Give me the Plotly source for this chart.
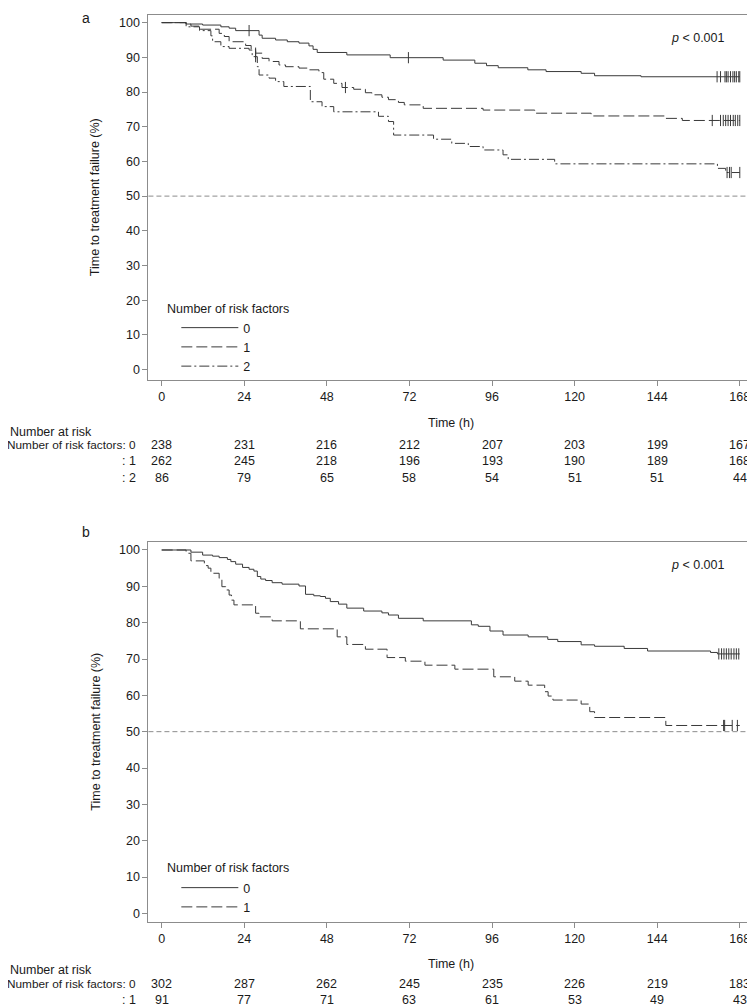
import numpy as np
import plotly.graph_objects as go

# The page adds an 8 px body margin, so the figure is drawn 8 px smaller and all
# reference pixel positions are shifted by that offset.
OFF = 8
W, H = 755 - OFF, 1006 - OFF

# ---------------- Panel a: survival curves (time h, % free of treatment failure) -------------
a_t0 = [0, 7.1, 11.9, 17.2, 19.6, 21.5, 28.3, 29.2, 33.1, 36.5, 39.9, 42.8, 44.0, 45.2, 53.8,
        66.4, 81.8, 91.0, 94.4, 97.8, 106.4, 111.7, 121.9, 125.8, 139.3, 168]
a_s0 = [100, 99.6, 99.3, 98.8, 98.4, 97.7, 96.4, 95.5, 95.0, 94.5, 94.1, 93.3, 92.3, 91.4, 90.7,
        89.9, 89.2, 88.3, 87.6, 87.0, 86.4, 85.9, 85.4, 84.7, 84.4, 84.4]
a_c0 = [25.4, 71.7, 161.4, 162.4, 163.7, 164.1, 164.6, 165.3, 166.0, 166.5, 167.0, 167.7, 168.0]

a_t1 = [0, 7.1, 8.5, 10.9, 16.7, 18.2, 19.6, 24.4, 26.0, 27.3, 29.2, 31.2, 34.1, 36.0, 39.9, 42.8,
        45.7, 47.1, 50.0, 52.4, 55.8, 59.2, 61.1, 64.0, 65.9, 68.8, 70.5, 76.0, 93.4, 108.4,
        124.8, 146.5, 151.3, 168]
a_s1 = [100, 99.6, 99.0, 98.1, 96.9, 96.0, 94.5, 93.4, 92.3, 91.2, 89.7, 88.8, 87.8, 87.3, 86.9,
        86.4, 85.6, 83.7, 82.5, 81.3, 80.8, 79.8, 79.2, 78.5, 77.8, 77.0, 76.3, 75.3, 74.8, 73.9,
        73.1, 72.4, 71.8, 71.8]
a_c1 = [27.3, 53.4, 160.0, 162.4, 163.2, 163.9, 164.6, 165.3, 166.1, 166.7, 167.4, 168.0]

a_t2 = [0, 7.1, 11.0, 14.3, 14.8, 17.2, 19.6, 25.4, 26.3, 27.8, 28.3, 31.2, 33.1, 35.5, 43.2,
        46.6, 50.0, 63.0, 65.9, 67.4, 79.0, 84.3, 89.1, 93.4, 99.2, 100.7, 114.2, 161.5, 163.9, 168]
a_s2 = [100, 98.8, 97.7, 96.2, 94.5, 93.1, 92.6, 92.1, 90.2, 87.3, 84.9, 84.0, 83.0, 81.6, 77.2,
        75.8, 74.3, 73.0, 71.5, 67.6, 66.4, 65.2, 64.3, 63.3, 61.9, 60.6, 59.3, 58.0, 56.8, 56.8]
a_c2 = [27.3, 164.3, 165.0, 165.5, 168.0]

# ---------------- Panel b ----------------
b_t0 = [0, 8.5, 11.9, 14.8, 16.7, 19.1, 20.1, 21.5, 23.5, 25.4, 26.8, 27.8, 28.8, 30.2, 32.1,
        35.0, 39.9, 41.8, 44.2, 46.1, 47.6, 49.0, 51.4, 53.8, 58.7, 64.0, 65.9, 68.8, 76.0,
        90.0, 92.0, 95.4, 99.2, 106.5, 112.2, 115.1, 121.9, 125.8, 134.4, 141.2, 159.5, 161.5, 168]
b_s0 = [100, 99.4, 98.6, 98.3, 97.9, 97.4, 96.8, 96.1, 95.2, 94.7, 94.2, 92.7, 92.0, 91.6, 91.0,
        90.6, 90.1, 87.8, 87.4, 87.2, 86.7, 85.8, 85.1, 84.0, 83.2, 82.7, 82.1, 81.2, 80.5,
        79.4, 79.0, 77.7, 76.6, 76.1, 75.4, 74.8, 73.9, 73.5, 72.9, 72.2, 71.8, 71.4, 71.4]
b_c0 = [161.9, 162.7, 163.4, 164.1, 164.8, 165.5, 166.3, 167.0, 167.7]

b_t1 = [0, 7.1, 8.5, 12.4, 13.5, 14.3, 16.7, 17.5, 18.6, 19.6, 20.3, 21.0, 27.3, 28.3, 32.1,
        40.3, 51.0, 53.8, 59.2, 65.5, 70.8, 76.5, 85.2, 96.5, 102.6, 106.5, 111.3, 112.3, 113.7,
        121.9, 124.4, 125.8, 146.5, 168]
b_s1 = [100, 99.1, 97.0, 95.7, 95.0, 93.6, 92.2, 89.9, 89.0, 87.6, 86.2, 84.9, 82.6, 81.6, 80.5,
        78.3, 76.1, 74.0, 72.7, 70.4, 69.4, 68.3, 67.2, 65.1, 63.9, 62.8, 61.0, 59.8, 58.7,
        57.6, 55.5, 53.9, 51.7, 51.7]
b_c1 = [163.3, 163.6, 165.8, 167.3]

# ---------------- Number at risk ----------------
risk_times = [0, 24, 48, 72, 96, 120, 144, 168]
a_risk0 = [238, 231, 216, 212, 207, 203, 199, 167]
a_risk1 = [262, 245, 218, 196, 193, 190, 189, 168]
a_risk2 = [86, 79, 65, 58, 54, 51, 51, 44]
b_risk0 = [302, 287, 262, 245, 235, 226, 219, 183]
b_risk1 = [91, 77, 71, 63, 61, 53, 49, 43]

y_ticks = list(range(0, 101, 10))

# ---------------- styling ----------------
LINE = "#3a3a3a"
AX = "#8c8c8c"
TXT = "#1a1a1a"
FONT = "Liberation Sans, Arial, sans-serif"
FS = 12.5
DASH = {"0": "solid", "1": "11px,4px", "2": "10px,3px,2px,3px"}


def px(p):
    return max(p - OFF, 0) / W


def py(p):
    return 1 - max(p - OFF, 0) / H


def step_val(t, s, tc):
    idx = np.searchsorted(np.asarray(t), np.asarray(tc), side="right") - 1
    idx = np.clip(idx, 0, len(s) - 1)
    return np.asarray(s)[idx]


fig = go.Figure()


def add_curves(xa, ya, legend, curves):
    for name, t, s, c in curves:
        fig.add_trace(go.Scatter(
            x=t, y=s, mode="lines", name=name, xaxis=xa, yaxis=ya, legend=legend,
            line=dict(shape="hv", color=LINE, width=1, dash=DASH[name]), hoverinfo="skip"))
    for name, t, s, c in curves:
        fig.add_trace(go.Scatter(
            x=c, y=step_val(t, s, c), mode="markers", xaxis=xa, yaxis=ya, showlegend=False,
            marker=dict(symbol="line-ns-open", size=8, color=LINE,
                        line=dict(color=LINE, width=1)),
            hoverinfo="skip"))


add_curves("x", "y", "legend", [("0", a_t0, a_s0, a_c0), ("1", a_t1, a_s1, a_c1),
                                ("2", a_t2, a_s2, a_c2)])
add_curves("x2", "y2", "legend2", [("0", b_t0, b_s0, b_c0), ("1", b_t1, b_s1, b_c1)])

axis_common = dict(showgrid=False, zeroline=False, showline=True, linecolor=AX, linewidth=1,
                   mirror=True, ticks="outside", ticklen=5, tickcolor=AX, tickwidth=1,
                   tickfont=dict(family=FONT, size=FS, color=TXT), fixedrange=True)

XR = [-3.85, 170.1]
legend_common = dict(xanchor="left", yanchor="top", bgcolor="rgba(0,0,0,0)",
                     font=dict(size=FS, color=TXT), tracegroupgap=0, itemwidth=57)
fig.update_layout(
    width=W, height=H, margin=dict(l=0, r=0, t=0, b=0),
    paper_bgcolor="white", plot_bgcolor="white",
    font=dict(family=FONT, size=FS, color=TXT),
    xaxis=dict(domain=[px(149), px(750)], range=XR, tickvals=risk_times, anchor="y",
               **axis_common),
    yaxis=dict(domain=[py(380), py(15)], range=[-3.0, 102.2], tickvals=y_ticks, anchor="x",
               **axis_common),
    xaxis2=dict(domain=[px(149), px(750)], range=XR, tickvals=risk_times, anchor="y2",
                **axis_common),
    yaxis2=dict(domain=[py(921.7), py(542)], range=[-2.3, 102.2], tickvals=y_ticks,
                anchor="x2", **axis_common),
    legend=dict(x=px(177), y=py(313), **legend_common),
    legend2=dict(x=px(177), y=py(873), **legend_common),
    showlegend=True,
)

# reference line at 50 %
for xa, ya in [("x", "y"), ("x2", "y2")]:
    fig.add_shape(type="line", xref=f"{xa} domain", yref=ya, x0=0, x1=1, y0=50, y1=50,
                  line=dict(color=AX, width=1, dash="5px,3px"))

ann = []


def text(x, y, s, xanchor="center", yanchor="middle", size=FS, **kw):
    ann.append(dict(x=x, y=y, text=s, showarrow=False, xanchor=xanchor, yanchor=yanchor,
                    font=dict(family=FONT, size=size, color=TXT), **kw))


panels = [
    dict(lab="a", laby=8, ytitle=197.5, py_=37.5, tt=423, nar=431.7, leg=309,
         rows=[(445, "Number of risk factors: 0", a_risk0), (461, ": 1", a_risk1),
               (477.7, ": 2", a_risk2)], xref="x"),
    dict(lab="b", laby=532, ytitle=732, py_=565, tt=964, nar=970, leg=867.7,
         rows=[(984, "Number of risk factors: 0", b_risk0), (1000, ": 1", b_risk1)], xref="x2"),
]
for i, p in enumerate(panels):
    if i == 0:
        text(px(86), py(p["laby"]), p["lab"], size=14, yanchor="top")
    else:
        text(px(86), py(p["laby"]), p["lab"], size=14)
    text(px(96), py(p["ytitle"]), "Time to treatment failure (%)", textangle=-90)
    text(px(730), py(p["py_"]), "<i>p</i> < 0.001", xanchor="right")
    text(px(453), py(p["tt"]), "Time (h)")
    text(px(166), py(p["leg"]), "Number of risk factors", xanchor="left")
    text(0, py(p["nar"]), "Number at risk", xanchor="left")
    for j, (ry, lab, vals) in enumerate(p["rows"]):
        text(px(139), py(ry), lab, xanchor="right", size=FS if j else 11.8)
        for t, v in zip(risk_times, vals):
            ann.append(dict(x=t, y=py(ry), xref=p["xref"], yref="paper", text=str(v),
                            showarrow=False, xanchor="center", yanchor="middle",
                            font=dict(family=FONT, size=FS, color=TXT)))

for a in ann:
    a.setdefault("xref", "paper")
    a.setdefault("yref", "paper")
fig.update_layout(annotations=ann)

fig.write_html("out.html")
